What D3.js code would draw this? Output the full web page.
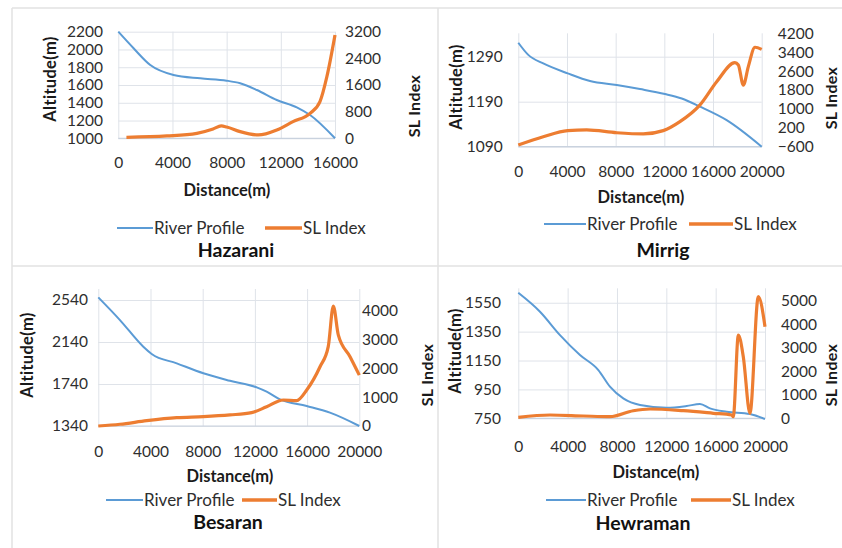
<!DOCTYPE html>
<html><head><meta charset="utf-8">
<script src="https://cdn.jsdelivr.net/npm/d3@7"></script>
<style>
body{margin:0;background:#fff}
svg{display:block}
text{font-family:Lato,"Open Sans",sans-serif}
</style>
</head><body>
<svg id="c" width="842" height="548"></svg>
<script>
// ---------------- DATA ----------------
const seriesNames = ["River Profile", "SL Index"];
const panelNames = ["Hazarani", "Mirrig", "Besaran", "Hewraman"];

const hazXTicks = [0, 4000, 8000, 12000, 16000];
const hazAltTicks = [1000, 1200, 1400, 1600, 1800, 2000, 2200];
const hazSLTicks = [0, 800, 1600, 2400, 3200];
const hazProfileDist = [0, 1130, 2360, 4080, 6050, 8000, 9000, 10230, 11700, 13180, 14160, 16000];
const hazProfileAlt  = [2200, 2013, 1825, 1713, 1675, 1649, 1619, 1544, 1431, 1349, 1262, 1000];
const hazSLDist = [600, 3590, 5800, 7000, 7600, 8000, 9000, 10340, 11700, 12900, 14160, 14890, 15400, 16000];
const hazSL     = [30, 70, 150, 280, 370, 340, 200, 100, 250, 500, 750, 1100, 1850, 3100];

const mirXTicks = [0, 4000, 8000, 12000, 16000, 20000];
const mirAltTicks = [1090, 1190, 1290];
const mirSLTicks = [-600, 200, 1000, 1800, 2600, 3400, 4200];
const mirProfileDist = [0, 820, 2050, 4060, 5890, 8090, 10000, 12050, 13430, 14930, 17120, 20000];
const mirProfileAlt  = [1321, 1294, 1275, 1253, 1236, 1227, 1218, 1207, 1197, 1179, 1149, 1090];
const mirSLDist = [0, 2050, 4060, 5620, 8090, 10270, 11910, 13280, 14930, 16300, 17800, 18080, 18490, 18900, 19450, 20000];
const mirSL     = [-530, -180, 80, 110, -10, -60, 80, 460, 1170, 2150, 2960, 2860, 2010, 2790, 3610, 3520];

const besXTicks = [0, 4000, 8000, 12000, 16000, 20000];
const besAltTicks = [1340, 1740, 2140, 2540];
const besSLTicks = [0, 1000, 2000, 3000, 4000];
const besProfileDist = [0, 1660, 3450, 4090, 6010, 8050, 10090, 12140, 12900, 13920, 15970, 17750, 20000];
const besProfileAlt  = [2565, 2349, 2095, 2026, 1937, 1842, 1771, 1708, 1667, 1594, 1530, 1467, 1340];
const besSLDist = [0, 1660, 3710, 6010, 8050, 10090, 11750, 12900, 14180, 15200, 15970, 16990, 17620, 18010, 18390, 19290, 20000];
const besSL     = [0, 60, 185, 290, 325, 385, 465, 670, 905, 880, 1250, 2060, 2760, 4170, 3170, 2410, 1770];

const hewXTicks = [0, 4000, 8000, 12000, 16000, 20000];
const hewAltTicks = [750, 950, 1150, 1350, 1550];
const hewSLTicks = [0, 1000, 2000, 3000, 4000, 5000];
const hewProfileDist = [0, 1760, 3380, 5000, 6490, 7430, 8510, 9870, 12030, 13650, 14730, 15540, 16890, 18780, 20000];
const hewProfileAlt  = [1619, 1488, 1326, 1188, 1084, 969, 888, 842, 823, 835, 849, 819, 796, 780, 745];
const hewSLDist = [0, 2570, 5270, 7430, 9320, 10680, 13380, 15810, 17300, 17430, 17840, 18240, 18780, 19460, 20000];
const hewSL     = [43, 140, 98, 68, 323, 396, 323, 213, 140, 68, 3545, 2621, 213, 5174, 3898];

// ---------------- LAYOUT ----------------
const panels = [
  {name: panelNames[0], pd: hazProfileDist, pa: hazProfileAlt, sd: hazSLDist, sv: hazSL,
   xDom: [0, 16000], xTicks: hazXTicks, aDom: [1000, 2200], aTicks: hazAltTicks, sDom: [0, 3200], sTicks: hazSLTicks,
   L: {l: 118.3, r: 335, t: 31.7, b: 138.3, lt: 103, rt: 345, xt: 163, at: [50, 79], st: [414, 106], xTitle: [227, 190],
       legY: 228, blue: [117, 153], orange: [265, 302], title: [236, 250]}},
  {name: panelNames[1], pd: mirProfileDist, pa: mirProfileAlt, sd: mirSLDist, sv: mirSL,
   xDom: [0, 20000], xTicks: mirXTicks, aDom: [1090, 1342], aTicks: mirAltTicks, sDom: [-600, 4200], sTicks: mirSLTicks,
   L: {l: 518.3, r: 761.7, t: 33.3, b: 146.7, lt: 502.7, rt: 777.7, xt: 172, at: [456, 87], st: [831, 98], xTitle: [641, 197],
       legY: 224, blue: [544, 586], orange: [689, 733], title: [663, 250]}},
  {name: panelNames[2], pd: besProfileDist, pa: besProfileAlt, sd: besSLDist, sv: besSL,
   xDom: [0, 20000], xTicks: besXTicks, aDom: [1340, 2645], aTicks: besAltTicks, sDom: [0, 4765], sTicks: besSLTicks,
   L: {l: 98.3, r: 359.3, t: 289, b: 426, lt: 88, rt: 362, xt: 451.7, at: [27, 355], st: [427, 375], xTitle: [230, 476],
       legY: 500, blue: [106, 143], orange: [242, 277], title: [228, 522]}},
  {name: panelNames[3], pd: hewProfileDist, pa: hewProfileAlt, sd: hewSLDist, sv: hewSL,
   xDom: [0, 20000], xTicks: hewXTicks, aDom: [750, 1650], aTicks: hewAltTicks, sDom: [0, 5532], sTicks: hewSLTicks,
   L: {l: 518.3, r: 765, t: 288.3, b: 418.3, lt: 501, rt: 781, xt: 446.7, at: [455, 351], st: [831, 375], xTitle: [656, 472],
       legY: 500, blue: [546, 586], orange: [691, 731], title: [643, 523]}}
];

const BLUE = "#5b9bd5", ORANGE = "#ed7d31", GRID = "#dfe3e9", TXT = "#2e2e2e";
const svg = d3.select("#c");

// panel frames
const frame = svg.append("g").attr("stroke", "#e2e2e2").attr("stroke-width", 1.5);
frame.append("line").attr("x1", 12).attr("x2", 842).attr("y1", 8).attr("y2", 8);
frame.append("line").attr("x1", 12).attr("x2", 842).attr("y1", 266).attr("y2", 266);
frame.append("line").attr("x1", 12).attr("x2", 12).attr("y1", 8).attr("y2", 548);
frame.append("line").attr("x1", 438).attr("x2", 438).attr("y1", 8).attr("y2", 548);

function styleAxis(sel, size) {
  sel.select(".domain").remove();
  sel.attr("font-family", "Lato, 'Open Sans', sans-serif").attr("font-size", size);
  sel.selectAll("text").attr("fill", TXT);
}

panels.forEach(p => {
  const L = p.L;
  const g = svg.append("g");
  const x = d3.scaleLinear().domain(p.xDom).range([L.l, L.r]);
  const yA = d3.scaleLinear().domain(p.aDom).range([L.b, L.t]);
  const yS = d3.scaleLinear().domain(p.sDom).range([L.b, L.t]);

  // gridlines
  g.append("g").attr("transform", `translate(${L.l},0)`)
    .call(d3.axisLeft(yA).tickValues(p.aTicks).tickSize(-(L.r - L.l)).tickFormat(""))
    .call(a => { a.select(".domain").remove(); a.selectAll("line").attr("stroke", GRID); });
  g.append("g").attr("transform", `translate(0,${L.t})`)
    .call(d3.axisTop(x).tickValues(p.xTicks).tickSize(-(L.b - L.t)).tickFormat(""))
    .call(a => { a.select(".domain").remove(); a.selectAll("line").attr("stroke", GRID); });
  // bottom axis line
  g.append("line").attr("x1", L.l).attr("x2", L.r).attr("y1", L.b).attr("y2", L.b)
    .attr("stroke", "#c9d2de").attr("stroke-width", 1.2);

  // tick labels
  g.append("g").attr("transform", `translate(${L.l},0)`)
    .call(d3.axisLeft(yA).tickValues(p.aTicks).tickSize(0).tickPadding(L.l - L.lt).tickFormat(d3.format("d")))
    .call(a => styleAxis(a, 15.5));
  g.append("g").attr("transform", `translate(${L.r},0)`)
    .call(d3.axisRight(yS).tickValues(p.sTicks).tickSize(0).tickPadding(L.rt - L.r).tickFormat(d3.format("d")))
    .call(a => styleAxis(a, 15.5));
  g.append("g").attr("transform", `translate(0,${L.b})`)
    .call(d3.axisBottom(x).tickValues(p.xTicks).tickSize(0).tickFormat(d3.format("d")))
    .call(a => { styleAxis(a, 15.5); a.selectAll("text").attr("y", L.xt - L.b).attr("dy", "0.35em"); });

  // lines
  const lineA = d3.line().x(d => x(d[0])).y(d => yA(d[1])).curve(d3.curveMonotoneX);
  const lineS = d3.line().x(d => x(d[0])).y(d => yS(d[1])).curve(d3.curveMonotoneX);
  g.append("path").datum(d3.zip(p.pd, p.pa)).attr("d", lineA)
    .attr("fill", "none").attr("stroke", BLUE).attr("stroke-width", 2);
  g.append("path").datum(d3.zip(p.sd, p.sv)).attr("d", lineS)
    .attr("fill", "none").attr("stroke", ORANGE).attr("stroke-width", 3.2).attr("stroke-linejoin", "round");

  // axis titles
  g.append("text").attr("transform", `translate(${L.at[0]},${L.at[1]}) rotate(-90)`)
    .attr("text-anchor", "middle").attr("dy", "0.35em").attr("font-weight", "bold").attr("font-size", 16.5)
    .attr("letter-spacing", 0.3).attr("fill", "#1a1a1a").text("Altitude(m)");
  g.append("text").attr("transform", `translate(${L.st[0]},${L.st[1]}) rotate(-90)`)
    .attr("text-anchor", "middle").attr("dy", "0.35em").attr("font-weight", "bold").attr("font-size", 16)
    .attr("letter-spacing", 0.3).attr("fill", "#1a1a1a").text("SL Index");
  g.append("text").attr("x", L.xTitle[0]).attr("y", L.xTitle[1]).attr("dy", "0.35em")
    .attr("text-anchor", "middle").attr("font-weight", "bold").attr("font-size", 16.5)
    .attr("fill", "#1a1a1a").text("Distance(m)");

  // legend
  g.append("line").attr("x1", L.blue[0]).attr("x2", L.blue[1]).attr("y1", L.legY).attr("y2", L.legY)
    .attr("stroke", BLUE).attr("stroke-width", 2);
  g.append("text").attr("x", L.blue[1] + 1).attr("y", L.legY).attr("dy", "0.35em")
    .attr("font-size", 17).attr("fill", TXT).text(seriesNames[0]);
  g.append("line").attr("x1", L.orange[0]).attr("x2", L.orange[1]).attr("y1", L.legY).attr("y2", L.legY)
    .attr("stroke", ORANGE).attr("stroke-width", 3.5);
  g.append("text").attr("x", L.orange[1] + 1).attr("y", L.legY).attr("dy", "0.35em")
    .attr("font-size", 17).attr("fill", TXT).text(seriesNames[1]);

  // title
  g.append("text").attr("x", L.title[0]).attr("y", L.title[1]).attr("dy", "0.35em")
    .attr("text-anchor", "middle").attr("font-weight", "bold").attr("font-size", 19.5)
    .attr("fill", "#111").text(p.name);
});
</script>
</body></html>
